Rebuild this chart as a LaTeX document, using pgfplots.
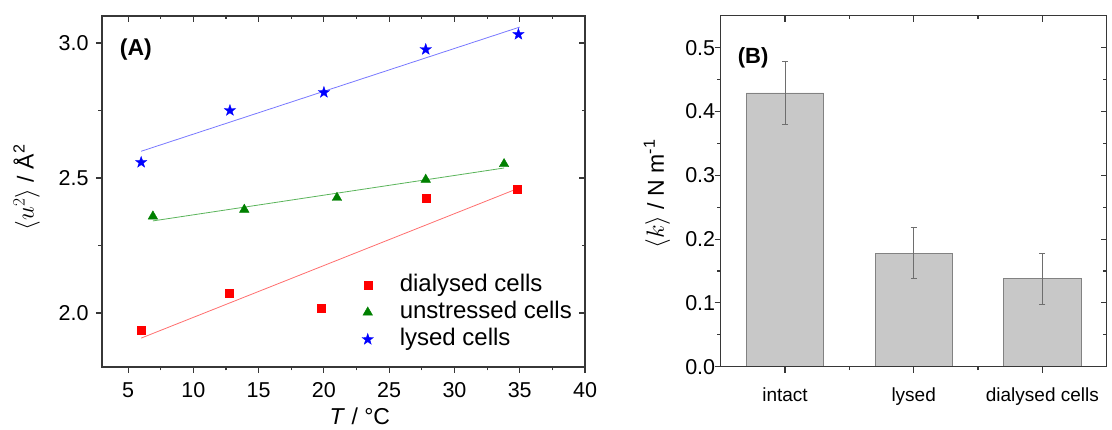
\documentclass[border=0pt]{standalone}
\usepackage{fontspec}
\setmainfont{Liberation Sans}
\usepackage{pgfplots}
\pgfplotsset{compat=1.18}
\definecolor{axc}{RGB}{55,55,55}
\definecolor{barfill}{RGB}{200,200,200}
\definecolor{baredge}{RGB}{130,130,130}
\definecolor{errc}{RGB}{110,110,110}
\definecolor{lred}{RGB}{255,110,110}
\definecolor{lgreen}{RGB}{90,180,90}
\definecolor{lblue}{RGB}{120,120,255}
\definecolor{mgreen}{RGB}{0,128,0}

\pgfdeclareplotmark{fstar}{%
  \pgfpathmoveto{\pgfpointpolar{90}{\pgfplotmarksize}}%
  \pgfpathlineto{\pgfpointpolar{126}{0.4\pgfplotmarksize}}%
  \pgfpathlineto{\pgfpointpolar{162}{\pgfplotmarksize}}%
  \pgfpathlineto{\pgfpointpolar{198}{0.4\pgfplotmarksize}}%
  \pgfpathlineto{\pgfpointpolar{234}{\pgfplotmarksize}}%
  \pgfpathlineto{\pgfpointpolar{270}{0.4\pgfplotmarksize}}%
  \pgfpathlineto{\pgfpointpolar{306}{\pgfplotmarksize}}%
  \pgfpathlineto{\pgfpointpolar{342}{0.4\pgfplotmarksize}}%
  \pgfpathlineto{\pgfpointpolar{18}{\pgfplotmarksize}}%
  \pgfpathlineto{\pgfpointpolar{54}{0.4\pgfplotmarksize}}%
  \pgfpathclose
  \pgfusepathqfillstroke}

\pgfplotsset{
  common/.style={
    scale only axis, anchor=south west,
    axis line style={axc, line width=1.3pt},
    every tick/.style={axc, line width=1.1pt},
    major tick length=6pt, minor tick length=3.5pt,
    tick label style={font=\fontsize{21.5}{25}\selectfont},
    /pgf/number format/assume math mode=true,
  },
  overlay/.style={
    common, tick align=inside, xtick pos=top, ytick pos=right,
    xticklabels={}, yticklabels={},
  },
}

\begin{document}
\begin{tikzpicture}
\path[use as bounding box] (0,0) rectangle (1112pt,430pt);

% ---------------- Panel A ----------------
\begin{axis}[common, at={(102pt,63pt)}, width=483pt, height=351pt,
  xmin=3, xmax=40, ymin=1.8, ymax=3.1,
  xtick={5,10,...,40}, minor xtick={7.5,12.5,...,37.5},
  ytick={2.0,2.5,3.0}, minor ytick={2.25,2.75},
  tick align=outside, xtick pos=bottom, ytick pos=left,
  yticklabel style={/pgf/number format/fixed, /pgf/number format/fixed zerofill, /pgf/number format/precision=1, xshift=-4pt},
  xticklabel style={yshift=-6pt},
  xlabel={\textit{T} / °C},
  xlabel style={font=\fontsize{23}{26}\selectfont, at={(axis description cs:0.534,0)}, anchor=north, inner sep=0pt, yshift=-41pt},
  ylabel={$\langle u^{2}\rangle$ / Å\textsuperscript{2}},
  ylabel style={font=\fontsize{23}{26}\selectfont, at={(axis description cs:-0.156,0.512)}, anchor=center, inner sep=0pt},
  legend style={draw=none, fill=none, at={(axis description cs:0.538,0.2715)}, anchor=north west, inner sep=0pt,
     font=\fontsize{24}{27}\selectfont, nodes={text height=18pt, text depth=5pt, inner sep=2pt}},
  legend cell align=left,
  legend image code/.code={\path[draw=none, fill=none] (-5pt,0pt) -- (30pt,0pt); \draw[#1] plot coordinates {(0pt,0pt)};},
]
\addplot[lred, line width=0.8pt, forget plot] coordinates {(6,1.907) (34.8,2.46)};
\addplot[lgreen, line width=0.8pt, forget plot] coordinates {(6.9,2.341) (33.8,2.537)};
\addplot[lblue, line width=0.8pt, forget plot] coordinates {(6,2.599) (35,3.059)};
\addplot[only marks, mark=square*, mark size=4pt, red, mark options={draw=red, fill=red}]
  coordinates {(6,1.938) (12.75,2.074) (19.8,2.017) (27.8,2.424) (34.8,2.457)};
\addlegendentry{dialysed cells}
\addplot[only marks, mark=triangle*, mark size=5.5pt, mgreen, mark options={draw=mgreen, fill=mgreen}]
  coordinates {(6.9,2.358) (13.9,2.383) (21,2.427) (27.8,2.494) (33.8,2.552)};
\addlegendentry{unstressed cells}
\addplot[only marks, mark=fstar, mark size=6pt, blue, mark options={draw=blue, fill=blue, line width=0.3pt}]
  coordinates {(6,2.558) (12.8,2.75) (20,2.817) (27.8,2.976) (34.9,3.032)};
\addlegendentry{lysed cells}
\node[font=\bfseries\fontsize{23}{26}\selectfont] at (rel axis cs:0.070,0.903) {(A)};
\end{axis}
\begin{axis}[overlay, at={(102pt,63pt)}, width=483pt, height=351pt,
  xmin=3, xmax=40, ymin=1.8, ymax=3.1,
  xtick={5,10,...,40}, minor xtick={7.5,12.5,...,37.5},
  ytick={2.0,2.5,3.0}, minor ytick={2.25,2.75}]
\end{axis}

% ---------------- Panel B ----------------
\begin{axis}[common, at={(720.7pt,63.3pt)}, width=386pt, height=351pt,
  xmin=-0.5, xmax=2.5, ymin=0, ymax=0.55,
  xtick={0,1,2}, xticklabels={intact,lysed,dialysed cells}, minor xtick={0.5,1.5},
  ytick={0,0.1,0.2,0.3,0.4,0.5}, minor ytick={0.05,0.15,0.25,0.35,0.45},
  tick align=outside, xtick pos=bottom, ytick pos=left,
  yticklabel style={/pgf/number format/fixed, /pgf/number format/fixed zerofill, /pgf/number format/precision=1, xshift=4pt},
  xticklabel style={yshift=-12pt, font=\fontsize{19}{22}\selectfont},
  ylabel={$\langle k\rangle$ / N m\textsuperscript{-1}},
  ylabel style={font=\fontsize{23}{26}\selectfont, at={(axis description cs:-0.165,0.492)}, anchor=center, inner sep=0pt},
]
\addplot[ybar, bar width=0.6, fill=barfill, draw=baredge, line width=0.8pt,
  error bars/.cd, y dir=both, y explicit,
  error bar style={errc, line width=0.7pt},
  error mark options={rotate=90, mark size=3pt, errc, line width=0.7pt}]
  coordinates {(0,0.429) +- (0,0.05) (1,0.178) +- (0,0.04) (2,0.138) +- (0,0.04)};
\node[font=\bfseries\fontsize{22}{26}\selectfont] at (rel axis cs:0.084,0.881) {(B)};
\end{axis}
\begin{axis}[overlay, at={(720.7pt,63.3pt)}, width=386pt, height=351pt,
  xmin=-0.5, xmax=2.5, ymin=0, ymax=0.55,
  xtick={0,1,2}, minor xtick={0.5,1.5},
  ytick={0,0.1,0.2,0.3,0.4,0.5}, minor ytick={0.05,0.15,0.25,0.35,0.45}]
\end{axis}
\end{tikzpicture}
\end{document}
